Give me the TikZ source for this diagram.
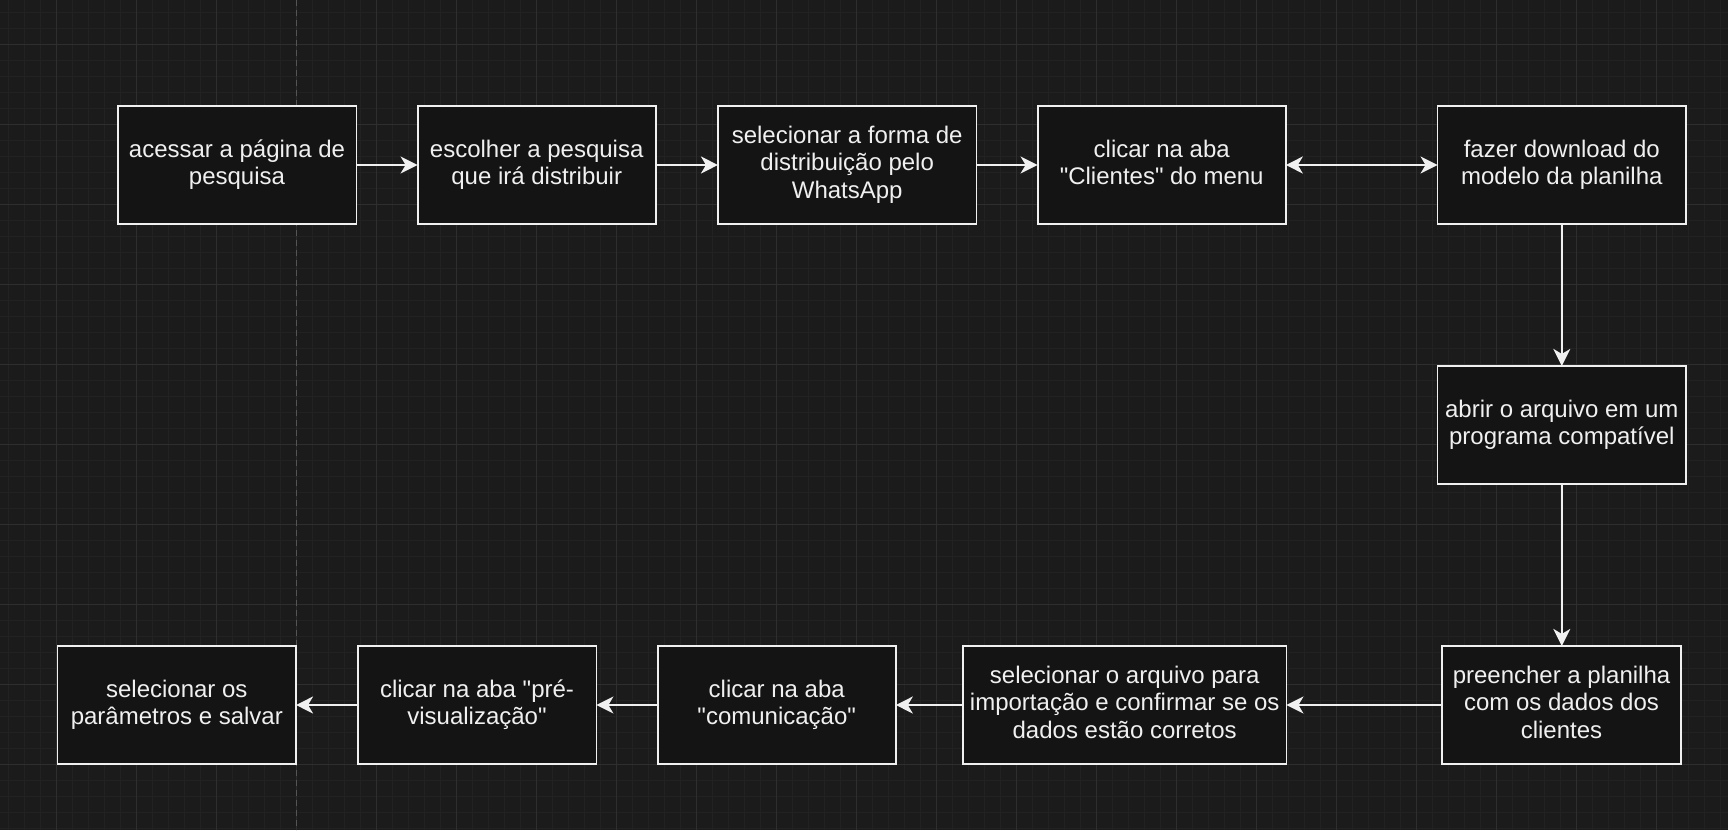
\documentclass[tikz,border=0pt]{standalone}
\usepackage{fontspec}
\setmainfont{Liberation Sans}[Ligatures=TeXOff]
\usetikzlibrary{arrows.meta}
\definecolor{canvas}{HTML}{1B1B1B}
\definecolor{boxfill}{HTML}{141414}
\definecolor{minorline}{HTML}{222222}
\definecolor{majorline}{HTML}{2E2E2E}
\definecolor{ink}{HTML}{F0F0F0}
\definecolor{pageline}{HTML}{555555}
\newcommand\boxstrut{\vrule height 21.75pt depth 5.75pt width 0pt}

\begin{document}
\begin{tikzpicture}[x=1pt, y=-1pt,
    stepbox/.style={draw=ink, fill=boxfill, line width=1.8pt, text=ink, align=center,
        inner sep=0pt, outer sep=0pt, minimum height=118.2,
        font=\fontsize{24}{27.5}\selectfont,
        execute at begin node=\boxstrut, execute at end node=\boxstrut},
    flow/.style={draw=ink, line width=2pt},
    >={Stealth[length=17pt, width=17pt, inset=5pt]}]
    \useasboundingbox (0,0) rectangle (1728,830);
    \fill[canvas] (0,0) rectangle (1728,830);
    % grid
    \foreach \gx in {0,...,107} \draw[minorline, line width=1pt] ({8.7+16*\gx},0) -- ++(0,830);
    \foreach \gy in {0,...,51} \draw[minorline, line width=1pt] (0,{12.3+16*\gy}) -- ++(1728,0);
    \foreach \gx in {0,...,20} \draw[majorline, line width=1.2pt] ({56.7+80*\gx},0) -- ++(0,830);
    \foreach \gy in {0,...,9} \draw[majorline, line width=1.2pt] (0,{44.3+80*\gy}) -- ++(1728,0);
    \draw[pageline, line width=1.2pt, dash pattern=on 6pt off 4pt] (296.7,0) -- (296.7,830);

    % top row
    \node[stepbox, minimum width=238.8] (acessar) at (237,165) {acessar a página de\\pesquisa};
    \node[stepbox, minimum width=238.2] (escolher) at (536.7,165) {escolher a pesquisa\\que irá distribuir};
    \node[stepbox, minimum width=258.5] (forma) at (847.2,165) {selecionar a forma de\\distribuição pelo\\WhatsApp};
    \node[stepbox, minimum width=248.2] (clientes) at (1161.7,165) {clicar na aba\\"Clientes" do menu};
    \node[stepbox, minimum width=248.5] (download) at (1561.8,165) {fazer download do\\modelo da planilha};
    % right column
    \node[stepbox, minimum width=248.5] (abrir) at (1561.8,425) {abrir o arquivo em um\\programa compatível};
    \node[stepbox, minimum width=239.2] (preencher) at (1561.5,705) {preencher a planilha\\com os dados dos\\clientes};
    % bottom row
    \node[stepbox, minimum width=323.5] (importar) at (1124.7,705) {selecionar o arquivo para\\importação e confirmar se os\\dados estão corretos};
    \node[stepbox, minimum width=238.2] (comunicacao) at (776.7,705) {clicar na aba\\"comunicação"};
    \node[stepbox, minimum width=238.8] (previa) at (477,705) {clicar na aba "pré-\\visualização"};
    \node[stepbox, minimum width=238.5] (salvar) at (176.8,705) {selecionar os\\parâmetros e salvar};

    % arrows
    \draw[flow, ->] (acessar) -- (escolher);
    \draw[flow, ->] (escolher) -- (forma);
    \draw[flow, ->] (forma) -- (clientes);
    \draw[flow, <->] (clientes) -- (download);
    \draw[flow, ->] (download) -- (abrir);
    \draw[flow, ->] (abrir.south) -- (abrir.south |- preencher.north);
    \draw[flow, ->] (preencher) -- (importar);
    \draw[flow, ->] (importar) -- (comunicacao);
    \draw[flow, ->] (comunicacao) -- (previa);
    \draw[flow, ->] (previa) -- (salvar);
\end{tikzpicture}
\end{document}
